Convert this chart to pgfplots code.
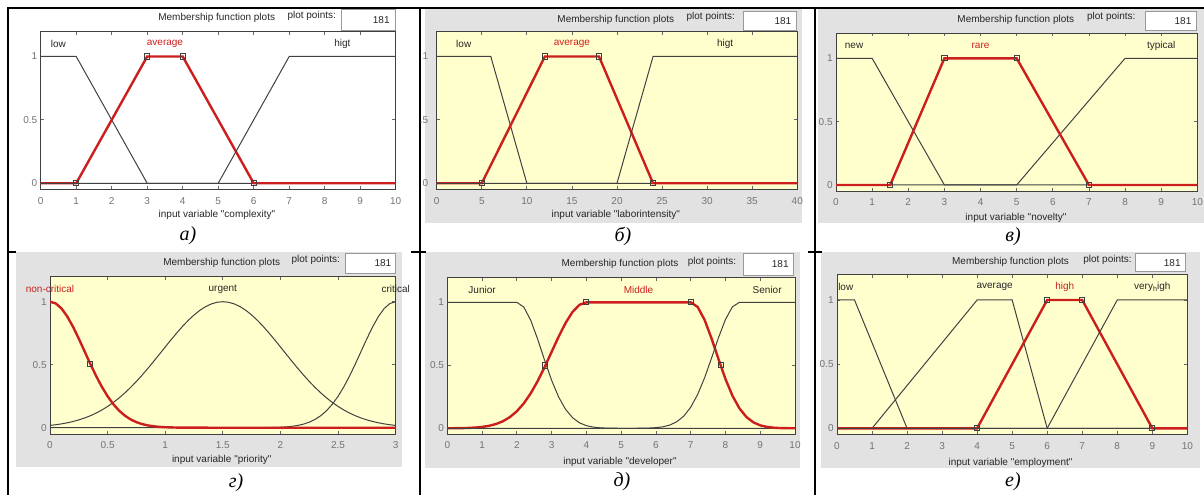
\documentclass[border=0pt]{standalone}
\usepackage{fontspec}
\setmainfont{Liberation Serif}
\newfontfamily\ui{Liberation Sans}
\usepackage{pgfplots}
\pgfplotsset{compat=1.18}

\definecolor{mfyellow}{RGB}{255,255,206}
\definecolor{panelgray}{RGB}{226,226,226}
\definecolor{mfred}{RGB}{205,30,30}
\definecolor{mfline}{RGB}{65,65,65}

\newcommand\uifont{\ui\fontsize{5}{6}\selectfont}
\newcommand\capfont{\itshape\fontsize{10}{12}\selectfont}

\tikzset{mfname/.style={font=\uifont, text=black!85}}

\pgfplotsset{
  mfaxis/.style={
    scale only axis, anchor=south west,
    ymin=-0.05, ymax=1.2, ytick={0,0.5,1},
    tick pos=both, tick align=inside,
    major tick length=1.7pt,
    every tick/.style={black!60, line width=0.4pt},
    axis line style={black!75, line width=0.5pt},
    axis background/.style={fill=mfyellow},
    tick label style={font=\uifont, text=black!55},
    /pgf/number format/assume math mode=true,
    yticklabel style={anchor=east, inner sep=0pt, xshift=-1.5pt},
    clip mode=individual,
  },
  mfthin/.style={mfline, line width=0.5pt, no markers},
  mfsel/.style={mfred, line width=1.2pt, no markers},
  mfmark/.style={only marks, mark=square, mark size=1.3pt,
    mark options={black!75, line width=0.5pt, solid}},
}

\begin{document}
\begin{tikzpicture}[x=0.5pt,y=-0.5pt]
\useasboundingbox (0,0) rectangle (1204,495);

% panel backgrounds
\fill[panelgray] (425,8.3) rectangle (801.7,222.5);
\fill[panelgray] (818,9) rectangle (1204,223);
\fill[panelgray] (16,252) rectangle (401.7,467);
\fill[panelgray] (425,251.7) rectangle (800,467.7);
\fill[panelgray] (820.7,251.7) rectangle (1200,467.5);

% table rules
\draw[line width=1pt] (7,8) -- (1204,8);
\draw[line width=1pt] (8,8) -- (8,495);
\draw[line width=1pt] (420,8) -- (420,495);
\draw[line width=1pt] (815,8) -- (815,495);
\draw[line width=0.6pt] (8,252) -- (16,252);
\draw[line width=0.6pt] (411,252) -- (426,252);
\draw[line width=0.6pt] (808,252) -- (822,252);

% headers: title, plot points box
\begin{scope}[every node/.style={font=\uifont, text=black!85, inner sep=0pt}]
  \node at (216.7,18.3) {Membership function plots};
  \node at (311.7,16) {plot points:};
  \draw[black!40, fill=white, line width=0.4pt] (341.7,9) rectangle (395,30);
  \node[anchor=east] at (390,20) {181};

  \node at (615.8,20) {Membership function plots};
  \node at (710.8,16.7) {plot points:};
  \draw[black!40, fill=white, line width=0.4pt] (743.3,11.7) rectangle (796.7,30);
  \node[anchor=east] at (791.7,21) {181};

  \node at (1015.8,20) {Membership function plots};
  \node at (1111.3,16.7) {plot points:};
  \draw[black!40, fill=white, line width=0.4pt] (1145,11.7) rectangle (1196.7,30);
  \node[anchor=east] at (1191.7,21) {181};

  \node at (221.7,263.3) {Membership function plots};
  \node at (315.8,260) {plot points:};
  \draw[black!40, fill=white, line width=0.4pt] (345,253.3) rectangle (395,273.3);
  \node[anchor=east] at (391.7,263.5) {181};

  \node at (620,264) {Membership function plots};
  \node at (712,261.7) {plot points:};
  \draw[black!40, fill=white, line width=0.4pt] (743.3,253.3) rectangle (793.3,275);
  \node[anchor=east] at (789,264) {181};

  \node at (1010.5,261.7) {Membership function plots};
  \node at (1107.5,260) {plot points:};
  \draw[black!40, fill=white, line width=0.4pt] (1135,253.3) rectangle (1185,271.7);
  \node[anchor=east] at (1181,263) {181};

  % axis titles
  \node at (217,215) {input variable "complexity"};
  \node at (615.8,215) {input variable "laborintensity"};
  \node at (1016,218.3) {input variable "novelty"};
  \node at (221.7,460) {input variable "priority"};
  \node at (620,461.5) {input variable "developer"};
  \node at (1010.5,462.5) {input variable "employment"};
\end{scope}

% captions
\begin{scope}[every node/.style={font=\capfont, inner sep=0pt}]
  \node at (188,236) {а)};
  \node at (623,236) {б)};
  \node at (1013,237) {в)};
  \node at (236,483) {г)};
  \node at (622,482) {д)};
  \node at (1013,482) {е)};
\end{scope}

\coordinate (pa) at (40.7,189.6);
\coordinate (pb) at (436.7,189.6);
\coordinate (pc) at (836,191.3);
\coordinate (pd) at (50,434);
\coordinate (pe) at (447.3,434.6);
\coordinate (pf) at (837,434.7);

% a) complexity
\begin{axis}[mfaxis, at={(pa)}, width=177.5pt, height=79.25pt,
  xmin=0, xmax=10, xtick={0,1,...,10},
  axis background/.style={fill=white},
  xticklabel style={anchor=center, yshift=-5.6pt}]
\addplot[mfthin] coordinates {(0,1) (1,1) (3,0) (10,0)};
\addplot[mfsel] coordinates {(0,0) (1,0) (3,1) (4,1) (6,0) (10,0)};
\addplot[mfmark] coordinates {(1,0) (3,1) (4,1) (6,0)};
\addplot[mfthin] coordinates {(0,0) (5,0) (7,1) (10,1)};
\node[mfname] at (axis cs:0.5,1.1) {low};
\node[mfname, text=mfred] at (axis cs:3.5,1.1) {average};
\node[mfname] at (axis cs:8.5,1.1) {higt};
\end{axis}

% b) labor intensity
\begin{axis}[mfaxis, at={(pb)}, width=180.3pt, height=79.25pt,
  xmin=0, xmax=40, xtick={0,5,...,40},
  yticklabels={0,.5,1},
  yticklabel style={xshift=-2.6pt},
  xticklabel style={anchor=center, yshift=-5.6pt}]
\addplot[mfthin] coordinates {(0,1) (6,1) (10,0) (40,0)};
\addplot[mfsel] coordinates {(0,0) (5,0) (12,1) (18,1) (24,0) (40,0)};
\addplot[mfmark] coordinates {(5,0) (12,1) (18,1) (24,0)};
\addplot[mfthin] coordinates {(0,0) (20,0) (24,1) (40,1)};
\node[mfname] at (axis cs:3,1.1) {low};
\node[mfname, text=mfred] at (axis cs:15,1.1) {average};
\node[mfname] at (axis cs:32,1.1) {higt};
\end{axis}

% c) novelty
\begin{axis}[mfaxis, at={(pc)}, width=180.65pt, height=79.15pt,
  xmin=0, xmax=10, xtick={0,1,...,10},
  xticklabel style={anchor=center, yshift=-5.2pt}]
\addplot[mfthin] coordinates {(0,1) (1,1) (3,0) (10,0)};
\addplot[mfthin] coordinates {(0,0) (5,0) (8,1) (10,1)};
\addplot[mfsel] coordinates {(0,0) (1.5,0) (3,1) (5,1) (7,0) (10,0)};
\addplot[mfmark] coordinates {(1.5,0) (3,1) (5,1) (7,0)};
\node[mfname] at (axis cs:0.5,1.1) {new};
\node[mfname, text=mfred] at (axis cs:4,1.1) {rare};
\node[mfname] at (axis cs:9,1.1) {typical};
\end{axis}

% d) priority
\begin{axis}[mfaxis, at={(pd)}, width=172.85pt, height=78.75pt,
  xmin=0, xmax=3, xtick={0,0.5,1,1.5,2,2.5,3},
  xticklabel style={anchor=center, yshift=-5.6pt}]
\addplot[mfthin] coordinates {
 (0,0.0182) (0.05,0.0237) (0.1,0.0305) (0.15,0.0390) (0.2,0.0494) (0.25,0.0620)
 (0.3,0.0771) (0.35,0.0950) (0.4,0.1160) (0.45,0.1405) (0.5,0.1687) (0.55,0.2006)
 (0.6,0.2365) (0.65,0.2764) (0.7,0.3201) (0.75,0.3674) (0.8,0.4180) (0.85,0.4714)
 (0.9,0.5269) (0.95,0.5836) (1,0.6408) (1.05,0.6974) (1.1,0.7522) (1.15,0.8041)
 (1.2,0.8520) (1.25,0.8947) (1.3,0.9313) (1.35,0.9607) (1.4,0.9824) (1.45,0.9956)
 (1.5,1) (1.55,0.9956) (1.6,0.9824) (1.65,0.9607) (1.7,0.9313) (1.75,0.8947)
 (1.8,0.8520) (1.85,0.8041) (1.9,0.7522) (1.95,0.6974) (2,0.6408) (2.05,0.5836)
 (2.1,0.5269) (2.15,0.4714) (2.2,0.4180) (2.25,0.3674) (2.3,0.3201) (2.35,0.2764)
 (2.4,0.2365) (2.45,0.2006) (2.5,0.1687) (2.55,0.1405) (2.6,0.1160) (2.65,0.0950)
 (2.7,0.0771) (2.75,0.0620) (2.8,0.0494) (2.85,0.0390) (2.9,0.0305) (2.95,0.0237)
 (3,0.0182)};
\addplot[mfthin] coordinates {
 (0,0) (1.5,0) (1.8,0.0003) (1.9,0.0012) (2,0.0039) (2.05,0.0066) (2.1,0.0111)
 (2.15,0.0181) (2.2,0.0286) (2.25,0.0439) (2.3,0.0657) (2.35,0.0956) (2.4,0.1353)
 (2.45,0.1863) (2.5,0.2494) (2.55,0.3247) (2.6,0.4111) (2.65,0.5063) (2.7,0.6065)
 (2.75,0.7066) (2.8,0.8007) (2.85,0.8825) (2.9,0.9460) (2.95,0.9862) (3,1)};
\addplot[mfsel] coordinates {
 (0,1) (0.05,0.9862) (0.1,0.9460) (0.15,0.8825) (0.2,0.8007) (0.25,0.7066)
 (0.3,0.6065) (0.35,0.5063) (0.4,0.4111) (0.45,0.3247) (0.5,0.2494) (0.55,0.1863)
 (0.6,0.1353) (0.65,0.0956) (0.7,0.0657) (0.75,0.0439) (0.8,0.0286) (0.85,0.0181)
 (0.9,0.0111) (0.95,0.0066) (1,0.0039) (1.1,0.0012) (1.2,0.0003) (1.5,0) (3,0)};
\addplot[mfmark] coordinates {(0.35,0.5063)};
\node[mfname, text=mfred] at (axis cs:0,1.1) {non-critical};
\node[mfname] at (axis cs:1.5,1.1) {urgent};
\node[mfname] at (axis cs:3,1.1) {critical};
\end{axis}

% e) developer
\begin{axis}[mfaxis, at={(pe)}, width=173.85pt, height=78.75pt,
  xmin=0, xmax=10, xtick={0,1,...,10},
  xticklabel style={anchor=center, yshift=-5.3pt}]
\addplot[mfthin] coordinates {
 (0,1) (2,1) (2.2,0.9621) (2.4,0.8570) (2.6,0.7066) (2.8,0.5394) (3,0.3812)
 (3.2,0.2494) (3.4,0.1510) (3.6,0.0847) (3.8,0.0439) (4,0.0211) (4.2,0.0094)
 (4.4,0.0039) (4.6,0.0015) (5,0.0002) (10,0)};
\addplot[mfsel] coordinates {
 (0,0.0003) (0.4,0.0015) (0.6,0.0031) (0.8,0.0060) (1,0.0111) (1.2,0.0198)
 (1.4,0.0340) (1.6,0.0561) (1.8,0.0889) (2,0.1353) (2.2,0.1979) (2.4,0.2780)
 (2.6,0.3753) (2.8,0.4868) (3,0.6065) (3.2,0.7261) (3.4,0.8353) (3.6,0.9231)
 (3.8,0.9802) (4,1) (7,1) (7.2,0.9632) (7.4,0.8606) (7.6,0.7133) (7.8,0.5485)
 (8,0.3913) (8.2,0.2590) (8.4,0.1590) (8.6,0.0905) (8.8,0.0478) (9,0.0234)
 (9.2,0.0107) (9.4,0.0045) (9.6,0.0018) (10,0.0002)};
\addplot[mfmark] coordinates {(2.82,0.4985) (4,1) (7,1) (7.86,0.4996)};
\addplot[mfthin] coordinates {
 (0,0) (5.4,0.0003) (5.8,0.0021) (6,0.0052) (6.2,0.0120) (6.4,0.0259)
 (6.6,0.0519) (6.8,0.0966) (7,0.1670) (7.2,0.2685) (7.4,0.4013) (7.6,0.5575)
 (7.8,0.7199) (8,0.8641) (8.2,0.9641) (8.4,1) (10,1)};
\node[mfname] at (axis cs:1,1.1) {Junior};
\node[mfname, text=mfred] at (axis cs:5.5,1.1) {Middle};
\node[mfname] at (axis cs:9.2,1.1) {Senior};
\end{axis}

% f) employment
\begin{axis}[mfaxis, at={(pf)}, width=175.15pt, height=80.2pt,
  xmin=0, xmax=10, xtick={0,1,...,10},
  xticklabel style={anchor=center, yshift=-5.6pt}]
\addplot[mfthin] coordinates {(0,1) (0.5,1) (2,0) (10,0)};
\addplot[mfthin] coordinates {(0,0) (1,0) (4,1) (5,1) (6,0) (10,0)};
\addplot[mfsel] coordinates {(0,0) (4,0) (6,1) (7,1) (9,0) (10,0)};
\addplot[mfmark] coordinates {(4,0) (6,1) (7,1) (9,0)};
\addplot[mfthin] coordinates {(0,0) (6,0) (8,1) (10,1)};
\node[mfname] at (axis cs:0.25,1.1) {low};
\node[mfname] at (axis cs:4.5,1.1) {average};
\node[mfname, text=mfred] at (axis cs:6.5,1.1) {high};
\node[mfname] at (axis cs:9,1.1) {very\raisebox{-1.2pt}{\fontsize{3.6}{4}\selectfont h}igh};
\end{axis}
\end{tikzpicture}
\end{document}
